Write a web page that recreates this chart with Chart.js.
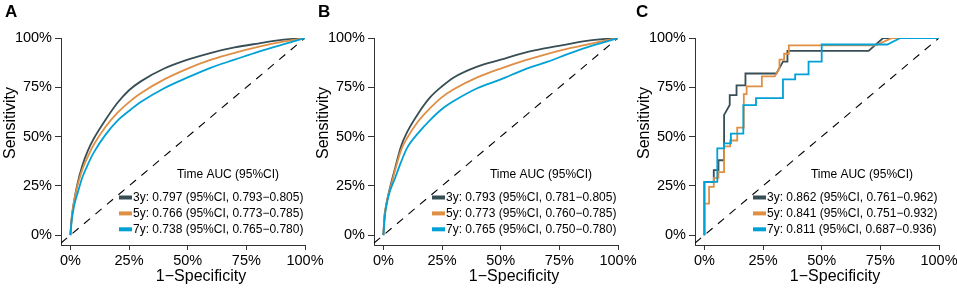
<!DOCTYPE html>
<html>
<head>
<meta charset="utf-8">
<script src="https://cdn.jsdelivr.net/npm/chart.js@4.4.1/dist/chart.umd.min.js"></script>
<style>
html, body { margin: 0; padding: 0; background: #fff; }
#wrap { position: relative; width: 957px; height: 291px; overflow: hidden; }
.panel { position: absolute; top: 0; width: 340px; height: 291px; }
.tag { position: absolute; top: 2px; font: bold 17px "Liberation Sans", Arial, sans-serif; color: #000; }
</style>
</head>
<body>
<div id="wrap">
  <div class="panel" style="left:0px"><canvas id="rocA"></canvas></div>
  <div class="panel" style="left:313px"><canvas id="rocB"></canvas></div>
  <div class="panel" style="left:634px"><canvas id="rocC"></canvas></div>
  <div class="tag" style="left:5px">A</div>
  <div class="tag" style="left:318px">B</div>
  <div class="tag" style="left:636px">C</div>
</div>
<script>
// axis ticks (shared by all three panels)
const tickValues = [0, 0.25, 0.5, 0.75, 1];

// smooth ROC curves, panels A and B
const fprGrid = [0, 0.005, 0.01, 0.02, 0.03, 0.05, 0.075, 0.1, 0.15, 0.2, 0.25, 0.3, 0.4, 0.5, 0.6, 0.7, 0.8, 0.9, 1];
const tprA3 = [0, 0.08, 0.13, 0.20, 0.26, 0.35, 0.43, 0.49, 0.585, 0.67, 0.735, 0.78, 0.845, 0.89, 0.925, 0.952, 0.972, 0.99, 1];
const tprA5 = [0, 0.08, 0.13, 0.20, 0.25, 0.33, 0.40, 0.46, 0.55, 0.62, 0.675, 0.72, 0.79, 0.845, 0.89, 0.925, 0.955, 0.98, 1];
const tprA7 = [0, 0.07, 0.11, 0.17, 0.21, 0.29, 0.36, 0.42, 0.51, 0.58, 0.63, 0.675, 0.745, 0.80, 0.85, 0.89, 0.93, 0.965, 1];

const tprB3 = [0, 0.10, 0.14, 0.20, 0.25, 0.34, 0.45, 0.52, 0.62, 0.70, 0.755, 0.80, 0.855, 0.89, 0.925, 0.95, 0.972, 0.99, 1];
const tprB5 = [0, 0.10, 0.14, 0.20, 0.24, 0.33, 0.43, 0.49, 0.58, 0.645, 0.70, 0.74, 0.80, 0.845, 0.885, 0.92, 0.95, 0.975, 1];
const tprB7 = [0, 0.08, 0.13, 0.19, 0.23, 0.29, 0.37, 0.44, 0.52, 0.585, 0.64, 0.68, 0.745, 0.79, 0.84, 0.88, 0.925, 0.965, 1];

// step ROC curves, panel C
const fprC3 = [0, 0, 0.04, 0.04, 0.06, 0.06, 0.084, 0.084, 0.108, 0.108, 0.137, 0.137, 0.175, 0.175, 0.307, 0.335, 0.354, 0.354, 0.70, 0.762, 1];
const tprC3 = [0, 0.27, 0.27, 0.33, 0.33, 0.38, 0.38, 0.61, 0.66, 0.71, 0.71, 0.76, 0.76, 0.82, 0.82, 0.88, 0.88, 0.935, 0.935, 1, 1];
const fprC5 = [0, 0, 0.02, 0.02, 0.04, 0.04, 0.06, 0.06, 0.084, 0.084, 0.11, 0.11, 0.14, 0.14, 0.168, 0.168, 0.18, 0.18, 0.245, 0.245, 0.30, 0.32, 0.32, 0.34, 0.34, 0.36, 0.36, 0.73, 0.80, 1];
const tprC5 = [0, 0.16, 0.16, 0.245, 0.245, 0.29, 0.29, 0.32, 0.32, 0.45, 0.45, 0.48, 0.48, 0.545, 0.545, 0.715, 0.715, 0.755, 0.755, 0.805, 0.805, 0.845, 0.89, 0.89, 0.92, 0.92, 0.963, 0.963, 1, 1];
const fprC7 = [0, 0, 0.055, 0.055, 0.084, 0.084, 0.113, 0.113, 0.166, 0.166, 0.22, 0.22, 0.335, 0.335, 0.387, 0.387, 0.444, 0.444, 0.50, 0.50, 0.78, 0.835, 1];
const tprC7 = [0, 0.27, 0.27, 0.44, 0.44, 0.465, 0.465, 0.515, 0.515, 0.66, 0.66, 0.695, 0.695, 0.79, 0.79, 0.815, 0.815, 0.88, 0.88, 0.967, 0.967, 1, 1];

const legendA = ['3y: 0.797 (95%CI, 0.793\u22120.805)', '5y: 0.766 (95%CI, 0.773\u22120.785)', '7y: 0.738 (95%CI, 0.765\u22120.780)'];
const legendB = ['3y: 0.793 (95%CI, 0.781\u22120.805)', '5y: 0.773 (95%CI, 0.760\u22120.785)', '7y: 0.765 (95%CI, 0.750\u22120.780)'];
const legendC = ['3y: 0.862 (95%CI, 0.761\u22120.962)', '5y: 0.841 (95%CI, 0.751\u22120.932)', '7y: 0.811 (95%CI, 0.687\u22120.936)'];

const colors = ['#374E55', '#DF8F44', '#00A1D5'];
const FONT = '"Liberation Sans", Arial, Helvetica, sans-serif';

function pts(xs, ys) {
    return xs.map((x, i) => ({ x: x, y: ys[i] }));
}

// titles and the in-plot legend
const annotate = {
    id: 'annotate',
    afterDraw(chart, args, opts) {
        const ctx = chart.ctx;
        const a = chart.chartArea;
        ctx.save();
        ctx.fillStyle = '#000';
        ctx.textBaseline = 'middle';
        ctx.textAlign = 'center';
        ctx.font = '16px ' + FONT;
        ctx.fillText('1\u2212Specificity', a.right - 104, 277);
        ctx.save();
        ctx.translate(a.left - 50, 123);
        ctx.rotate(-Math.PI / 2);
        ctx.fillText('Sensitivity', 0, 0);
        ctx.restore();

        ctx.font = '12px ' + FONT;
        ctx.fillText('Time AUC (95%CI)', a.right - 77, a.bottom - 70);
        ctx.textAlign = 'left';
        opts.labels.forEach((t, i) => {
            const y = a.bottom - 47.5 + i * 15.9;
            ctx.fillStyle = colors[i];
            ctx.fillRect(a.right - 186, y - 2, 13, 4);
            ctx.fillStyle = '#000';
            ctx.fillText(t, a.right - 172, y);
        });
        ctx.restore();
    }
};

function axis(min, isY) {
    return {
        type: 'linear',
        min: min,
        max: 1,
        afterBuildTicks: (ax) => { ax.ticks = tickValues.map(v => ({ value: v })); },
        afterFit: (ax) => {
            if (isY) ax.width = 61; else ax.height = 46;
        },
        grid: { display: true, drawOnChartArea: false, drawTicks: true, tickLength: isY ? 6 : 5, color: '#333', tickWidth: 1 },
        border: { display: true, color: '#333', width: 1 },
        ticks: {
            color: '#000',
            padding: isY ? 3 : 2,
            font: { family: FONT, size: 14.5 },
            maxRotation: 0,
            autoSkip: false,
            callback: (v) => Math.round(v * 100) + '%'
        }
    };
}

function makeRoc(id, series, labels, smooth) {
    const datasets = [{
        data: pts([-0.04, 1], [-0.04, 1]),
        borderColor: '#000',
        borderWidth: 1.1,
        borderDash: [8, 7],
        order: 4
    }];
    series.forEach((s, i) => {
        datasets.push({
            data: pts(s[0], s[1]),
            borderColor: colors[i],
            borderWidth: 1.8,
            cubicInterpolationMode: smooth ? 'monotone' : 'default',
            tension: 0,
            order: 3 - i
        });
    });
    return new Chart(document.getElementById(id), {
        type: 'line',
        data: { datasets: datasets },
        plugins: [annotate],
        options: {
            responsive: true,
            maintainAspectRatio: false,
            animation: false,
            layout: { padding: { top: 38, right: 35, bottom: 0, left: 0 } },
            elements: { point: { radius: 0 } },
            plugins: {
                legend: { display: false },
                tooltip: { enabled: false },
                annotate: { labels: labels }
            },
            scales: {
                x: axis(-0.04, false),
                y: axis(-0.05, true)
            }
        }
    });
}

makeRoc('rocA', [[fprGrid, tprA3], [fprGrid, tprA5], [fprGrid, tprA7]], legendA, true);
makeRoc('rocB', [[fprGrid, tprB3], [fprGrid, tprB5], [fprGrid, tprB7]], legendB, true);
makeRoc('rocC', [[fprC3, tprC3], [fprC5, tprC5], [fprC7, tprC7]], legendC, false);
</script>
</body>
</html>
